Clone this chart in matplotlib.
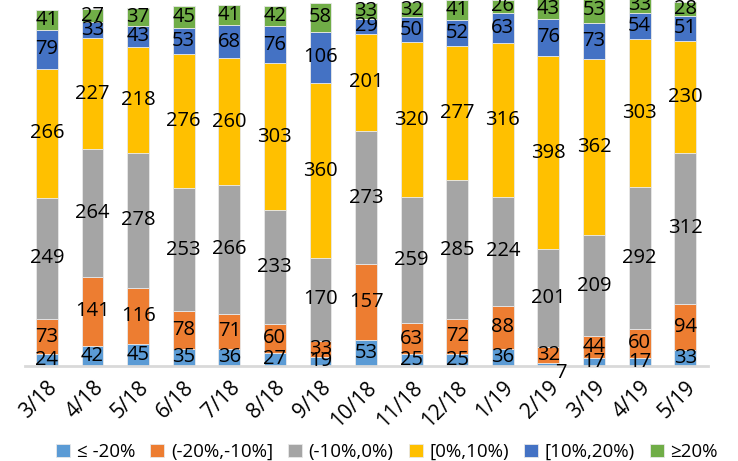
import matplotlib
matplotlib.use("Agg")
import matplotlib.pyplot as plt
import numpy as np

months = ["3/18", "4/18", "5/18", "6/18", "7/18", "8/18", "9/18", "10/18",
          "11/18", "12/18", "1/19", "2/19", "3/19", "4/19", "5/19"]
series_names = ["≤ -20%", "(-20%,-10%]", "(-10%,0%)", "[0%,10%)", "[10%,20%)", "≥20%"]
le_m20 = [24, 42, 45, 35, 36, 27, 19, 53, 25, 25, 36, 7, 17, 17, 33]
m20_m10 = [73, 141, 116, 78, 71, 60, 33, 157, 63, 72, 88, 32, 44, 60, 94]
m10_0 = [249, 264, 278, 253, 266, 233, 170, 273, 259, 285, 224, 201, 209, 292, 312]
p0_10 = [266, 227, 218, 276, 260, 303, 360, 201, 320, 277, 316, 398, 362, 303, 230]
p10_20 = [79, 33, 43, 53, 68, 76, 106, 29, 50, 52, 63, 76, 73, 54, 51]
ge_20 = [41, 27, 37, 45, 41, 42, 58, 33, 32, 41, 26, 43, 53, 33, 28]

colors = ["#5B9BD5", "#ED7D31", "#A5A5A5", "#FFC000", "#4472C4", "#70AD47"]

plt.rcParams["font.family"] = ["Open Sans", "DejaVu Sans"]

fig = plt.figure(figsize=(7.38, 4.61), dpi=100)
ax = fig.add_axes([25 / 738, 95 / 461, 683 / 738, 366 / 461])

x = np.arange(len(months))
bottom = np.zeros(len(months))
for name, vals, c in zip(series_names, [le_m20, m20_m10, m10_0, p0_10, p10_20, ge_20], colors):
    vals = np.array(vals, dtype=float)
    ax.bar(x, vals, 0.48, bottom=bottom, color=c, edgecolor="#e8e8e8", linewidth=0.6, label=name)
    for xi, b, v in zip(x, bottom, vals):
        y = b + v / 2
        off = (0, 0)
        if v < 10:
            # too small to hold its label, push it below the axis
            y, off = 0, (9, -5)
        ax.annotate(f"{int(v)}", (xi, y), xytext=off,
                    textcoords="offset points", ha="center", va="center",
                    fontsize=14.5, color="black", annotation_clip=False)
    bottom += vals

ax.set_xlim(-0.48, 14.5)
ax.set_ylim(0, 753)
for s in ["top", "right", "left"]:
    ax.spines[s].set_visible(False)
ax.spines["bottom"].set_color("#d9d9d9")
ax.spines["bottom"].set_linewidth(2)
ax.set_yticks([])
ax.set_xticks(x)
ax.set_xticklabels(months, rotation=45, ha="right", rotation_mode="anchor", fontsize=15)
ax.tick_params(axis="x", length=0, pad=8)

ax.legend(loc="center", bbox_to_anchor=(0.53, -0.235), ncol=6, frameon=False, fontsize=13.5,
          handlelength=0.75, handleheight=0.75, handletextpad=0.35, columnspacing=0.8,
          borderpad=0)

fig.savefig("out.png", dpi=100)
